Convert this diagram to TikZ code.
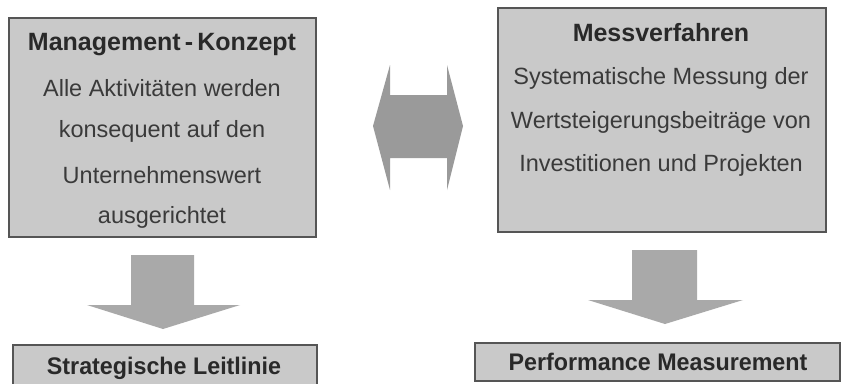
\documentclass[tikz,border=0pt]{standalone}
\usepackage{fontspec}
\setmainfont{Liberation Sans}
\newfontfamily\bodyfont{Liberation Sans}
\newfontfamily\titlefont{Liberation Sans Bold}
\newfontfamily\lowfont[FakeStretch=0.97]{Liberation Sans Bold}
\definecolor{boxfill}{HTML}{C9C9C9}
\definecolor{boxline}{HTML}{555555}
\definecolor{arrowfill}{HTML}{A9A9A9}
\definecolor{darrow}{HTML}{9A9A9A}
\definecolor{txt}{HTML}{3A3A3A}
\begin{document}
\begin{tikzpicture}[x=1pt,y=-1pt,
  boxstyle/.style={draw=boxline,fill=boxfill,line width=1.2pt},
  arrowstyle/.style={fill=arrowfill,draw=none},
  titletext/.style={text=txt!70!black,font=\titlefont\fontsize{25}{28}\selectfont,inner sep=0pt},
  bodytext/.style={text=txt,font=\bodyfont\fontsize{23.5}{26}\selectfont,inner sep=0pt},
  lowtext/.style={text=txt!70!black,font=\lowfont\fontsize{24}{28}\selectfont,inner sep=0pt}]
\useasboundingbox (0,0) rectangle (846,383);
\fill[white] (0,0) rectangle (846,383);
% top left box
\draw[boxstyle] (9,18) rectangle (316,237);
\node[titletext] (mk) at (162,45) {Management\,-\,Konzept};
\node[bodytext] (l1) at (162,88) {Alle Aktivitäten werden};
\node[bodytext] (l2) at (162,131) {konsequent auf den};
\node[bodytext] (l3) at (162,175) {Unternehmenswert};
\node[bodytext] (l4) at (162,217) {ausgerichtet};
% top right box
\draw[boxstyle] (498,8) rectangle (826,232);
\node[titletext] (mv) at (661,33) {Messverfahren};
\node[bodytext] (r1) at (661,78) {Systematische Messung der};
\node[bodytext] (r2) at (661,122) {Wertsteigerungsbeiträge von};
\node[bodytext] (r3) at (661,165) {Investitionen und Projekten};
% double arrow
\fill[darrow] (373,126) -- (390,65) -- (390,95) -- (447,95) -- (447,65) -- (463,126)
  -- (447,190) -- (447,158) -- (390,158) -- (390,190) -- cycle;
% left down arrow
\fill[arrowstyle] (131,255) -- (194,255) -- (194,305) -- (240,305) -- (163,329)
  -- (87,305) -- (131,305) -- cycle;
% right down arrow
\fill[arrowstyle] (632,250) -- (697,250) -- (697,300) -- (743,300) -- (665,324)
  -- (588,300) -- (632,300) -- cycle;
% bottom boxes
\draw[boxstyle] (13,345) rectangle (317,392);
\node[lowtext] (sl) at (164,368) {Strategische Leitlinie};
\draw[boxstyle] (475,343) rectangle (840,381);
\node[lowtext] (pm) at (658,362) {Performance Measurement};
\end{tikzpicture}
\end{document}
